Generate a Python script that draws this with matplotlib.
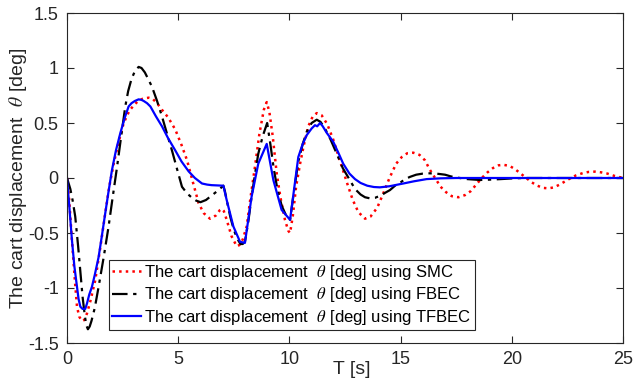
import matplotlib
matplotlib.use('Agg')
import matplotlib.pyplot as plt

# SMC response (red dotted)
t_smc = [0, 0.1, 0.22, 0.35, 0.45, 0.55, 0.67, 0.78, 0.9, 1.05, 1.27, 1.5, 1.72, 1.9,
         2.1, 2.3, 2.55, 2.8, 3.0, 3.2, 3.4, 3.67, 3.85, 4.05, 4.27, 4.55, 4.87, 5.15,
         5.4, 5.65, 5.92, 6.15, 6.43, 6.7, 6.88, 6.95, 7.05, 7.18, 7.4, 7.63, 7.75,
         7.9, 8.08, 8.25, 8.45, 8.65, 8.85, 8.98, 9.1, 9.25, 9.43, 9.6, 9.8, 9.95,
         10.03, 10.15, 10.3, 10.48, 10.65, 10.85, 11.05, 11.23, 11.45, 11.7, 11.97,
         12.3, 12.6, 12.85, 13.1, 13.4, 13.65, 13.95, 14.2, 14.5, 14.8, 15.05, 15.3,
         15.57, 15.85, 16.1, 16.3, 16.55, 16.8, 17.05, 17.3, 17.6, 17.9, 18.15, 18.4,
         18.65, 18.9, 19.15, 19.4, 19.62, 19.9, 20.15, 20.4, 20.65, 20.9, 21.15, 21.4,
         21.65, 21.9, 22.15, 22.4, 22.65, 22.9, 23.2, 23.45, 23.74, 24.0, 24.3, 24.6,
         25]
y_smc = [0, -0.20, -0.56, -0.92, -1.17, -1.26, -1.30, -1.29, -1.23, -1.12, -0.93,
         -0.63, -0.32, -0.08, 0.13, 0.31, 0.50, 0.61, 0.66, 0.70, 0.72, 0.73, 0.72,
         0.68, 0.62, 0.55, 0.44, 0.30, 0.16, -0.03, -0.23, -0.32, -0.37, -0.34, -0.29,
         -0.28, -0.30, -0.38, -0.53, -0.62, -0.61, -0.56, -0.44, -0.18, 0.10, 0.40,
         0.62, 0.69, 0.60, 0.38, 0.04, -0.18, -0.38, -0.48, -0.50, -0.35, -0.08, 0.13,
         0.30, 0.47, 0.56, 0.59, 0.57, 0.49, 0.35, 0.14, -0.05, -0.20, -0.31, -0.37,
         -0.35, -0.27, -0.15, 0.0, 0.13, 0.19, 0.225, 0.23, 0.21, 0.16, 0.08, 0.0,
         -0.08, -0.13, -0.165, -0.175, -0.155, -0.12, -0.06, 0.0, 0.05, 0.09, 0.115,
         0.12, 0.11, 0.08, 0.04, 0.0, -0.04, -0.07, -0.09, -0.094, -0.085, -0.06,
         -0.03, 0.0, 0.025, 0.045, 0.055, 0.058, 0.052, 0.04, 0.02, 0.0]

# FBEC response (black dash-dot)
t_fbec = [0, 0.15, 0.25, 0.37, 0.5, 0.6, 0.7, 0.8, 0.87, 0.94, 1.02, 1.1, 1.25, 1.42,
          1.65, 1.87, 2.05, 2.25, 2.45, 2.62, 2.75, 2.9, 3.05, 3.22, 3.35, 3.5, 3.65,
          3.82, 4.05, 4.27, 4.5, 4.72, 4.95, 5.17, 5.4, 5.62, 5.8, 6.0, 6.25, 6.5,
          6.75, 7.03, 7.1, 7.2, 7.35, 7.5, 7.65, 7.8, 7.9, 8.0, 8.15, 8.3, 8.45, 8.6,
          8.8, 9.0, 9.15, 9.3, 9.45, 9.65, 9.85, 10.03, 10.2, 10.4, 10.6, 10.78, 11.0,
          11.23, 11.4, 11.6, 11.85, 12.13, 12.4, 12.72, 12.95, 13.2, 13.4, 13.62,
          13.85, 14.1, 14.3, 14.52, 14.75, 15.0, 15.2, 15.42, 15.7, 16.0, 16.25, 16.6,
          17.0, 17.25, 17.5, 18.0, 18.57, 19.0, 19.5, 20.0, 20.5, 25]
y_fbec = [0, -0.10, -0.20, -0.35, -0.62, -0.85, -1.08, -1.25, -1.34, -1.375, -1.35,
          -1.30, -1.18, -0.99, -0.72, -0.44, -0.18, 0.10, 0.40, 0.65, 0.79, 0.90, 0.97,
          1.01, 1.00, 0.96, 0.90, 0.83, 0.70, 0.56, 0.40, 0.25, 0.08, -0.08, -0.14,
          -0.18, -0.205, -0.22, -0.20, -0.16, -0.12, -0.07, -0.12, -0.22, -0.36, -0.47,
          -0.55, -0.60, -0.60, -0.58, -0.40, -0.17, 0.03, 0.22, 0.38, 0.50, 0.30, 0.08,
          -0.09, -0.25, -0.34, -0.38, -0.13, 0.15, 0.31, 0.42, 0.50, 0.53, 0.51, 0.45,
          0.35, 0.22, 0.09, -0.02, -0.10, -0.15, -0.175, -0.185, -0.18, -0.16, -0.135,
          -0.11, -0.07, -0.04, -0.01, 0.01, 0.03, 0.04, 0.043, 0.04, 0.03, 0.015, 0.005,
          -0.01, -0.018, -0.015, -0.01, -0.004, 0.0, 0.0]

# TFBEC response (blue solid)
t_tfbec = [0, 0.1, 0.22, 0.33, 0.45, 0.52, 0.6, 0.7, 0.82, 0.9, 1.0, 1.12, 1.25, 1.42,
           1.55, 1.72, 1.87, 2.02, 2.2, 2.4, 2.6, 2.77, 2.9, 3.05, 3.22, 3.35, 3.45,
           3.6, 3.75, 4.0, 4.27, 4.55, 4.87, 5.15, 5.47, 5.75, 6.07, 6.3, 6.5, 7.03,
           7.18, 7.48, 7.78, 8.0, 8.3, 8.6, 8.98, 9.28, 9.65, 10.03, 10.4, 10.6, 10.78,
           11.0, 11.15, 11.25, 11.38, 11.5, 11.68, 11.97, 12.2, 12.42, 12.7, 12.95,
           13.2, 13.5, 13.8, 14.07, 14.5, 15.12, 15.6, 16.17, 16.8, 17.5, 25]
y_tfbec = [0, -0.25, -0.56, -0.80, -0.99, -1.10, -1.17, -1.19, -1.19, -1.14, -1.06,
           -0.99, -0.88, -0.72, -0.55, -0.32, -0.12, 0.07, 0.25, 0.41, 0.55, 0.65, 0.68,
           0.70, 0.715, 0.71, 0.70, 0.68, 0.65, 0.56, 0.47, 0.36, 0.25, 0.15, 0.06, 0.0,
           -0.05, -0.06, -0.065, -0.07, -0.20, -0.44, -0.58, -0.59, -0.17, 0.13, 0.31,
           -0.02, -0.29, -0.38, 0.19, 0.31, 0.39, 0.45, 0.48, 0.47, 0.50, 0.47, 0.41,
           0.33, 0.23, 0.13, 0.04, -0.01, -0.045, -0.07, -0.082, -0.085, -0.075, -0.05,
           -0.03, -0.01, -0.003, 0.0, 0.0]

labels = ['The cart displacement  $\\theta$ [deg] using SMC',
          'The cart displacement  $\\theta$ [deg] using FBEC',
          'The cart displacement  $\\theta$ [deg] using TFBEC']

plt.rcParams['font.family'] = 'Liberation Sans'
plt.rcParams['mathtext.fontset'] = 'stix'
ink = '#262626'

fig = plt.figure(figsize=(6.33, 3.81), dpi=100)
ax = fig.add_axes([67 / 633, 38 / 381, 556 / 633, 330 / 381])

ax.plot(t_smc, y_smc, color='red', linestyle=':', linewidth=1.8, label=labels[0])
ax.plot(t_fbec, y_fbec, color='black', linestyle=(0, (7, 2.5, 1.5, 2.5)), linewidth=1.6,
        label=labels[1])
ax.plot(t_tfbec, y_tfbec, color='blue', linestyle='-', linewidth=1.6, label=labels[2])

ax.set_xlim(0, 25)
ax.set_ylim(-1.5, 1.5)
ax.set_xticks([0, 5, 10, 15, 20, 25])
ax.set_yticks([-1.5, -1, -0.5, 0, 0.5, 1, 1.5])
ax.set_yticklabels(['-1.5', '-1', '-0.5', '0', '0.5', '1', '1.5'])
ax.tick_params(direction='in', top=True, right=True, length=5, width=0.8,
               labelsize=13, colors=ink, pad=6)
for s in ax.spines.values():
    s.set_color(ink)
    s.set_linewidth(0.8)

ax.set_xlabel('T [s]', fontsize=14, color=ink)
ax.xaxis.set_label_coords(0.513, -0.055)
ax.set_ylabel('The cart displacement  $\\theta$ [deg]', fontsize=14, color=ink)
ax.yaxis.set_label_coords(-0.068, 0.5)

leg = ax.legend(loc='lower left', bbox_to_anchor=(0.0755, 0.039), borderaxespad=0,
                fontsize=12, fancybox=False, framealpha=1, edgecolor=ink,
                handlelength=1.7, handletextpad=0.2, labelspacing=0.2,
                borderpad=0.2)
leg.get_frame().set_linewidth(0.8)

fig.savefig('out.png', dpi=100)
